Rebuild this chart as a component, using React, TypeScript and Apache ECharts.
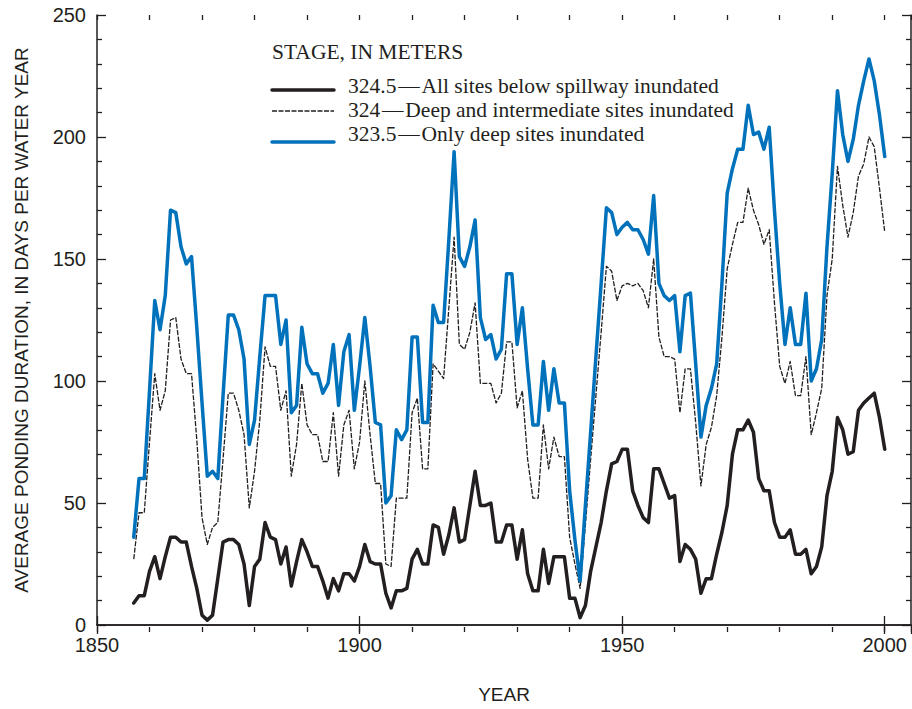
import React, { useEffect, useRef } from "react";
import * as echarts from "echarts";

const START_YEAR = 1857;

// 323.5 m — Only deep sites inundated (blue)
const stage3235: number[] = [
  36, 60, 60, 96,
  133, 121, 135, 170, 169, 155, 148, 151, 122, 91,
  61, 63, 60, 94, 127, 127, 121, 109, 74, 84,
  110, 135, 135, 135, 115, 125, 87, 90, 122, 107,
  103, 103, 95, 99, 115, 90, 112, 119, 88, 106,
  126, 106, 83, 82, 50, 53, 80, 76, 80, 118,
  118, 83, 83, 131, 124, 124, 158, 194, 151, 147,
  155, 166, 126, 117, 119, 109, 113, 144, 144, 115,
  130, 105, 82, 82, 108, 88, 105, 91, 91, 55,
  35, 18, 49, 79, 110, 140, 171, 169, 160, 163,
  165, 162, 162, 158, 152, 176, 140, 135, 133, 135,
  112, 135, 136, 107, 77, 90, 97, 107, 140, 177,
  187, 195, 195, 213, 201, 202, 195, 204, 170, 140,
  115, 130, 115, 115, 136, 100, 105, 117, 155, 185,
  219, 201, 190, 199, 213, 223, 232, 223, 209, 192,
];

// 324 m — Deep and intermediate sites inundated (dashed)
const stage324: number[] = [
  27, 46, 46, 75,
  103, 88, 96, 125, 126, 109, 103, 103, 76, 44,
  33, 40, 42, 68, 95, 95, 88, 78, 48, 63,
  84, 114, 106, 106, 88, 96, 61, 74, 99, 82,
  78, 78, 67, 67, 87, 61, 82, 88, 64, 75,
  100, 78, 58, 58, 25, 24, 52, 52, 52, 87,
  93, 64, 64, 107, 104, 101, 130, 159, 115, 113,
  120, 132, 99, 99, 99, 91, 95, 116, 116, 89,
  96, 68, 52, 52, 82, 64, 77, 69, 69, 36,
  25, 15, 41, 68, 94, 120, 147, 145, 133, 139,
  140, 139, 140, 137, 130, 150, 118, 110, 110, 109,
  87, 105, 105, 83, 57, 74, 81, 94, 118, 146,
  156, 165, 165, 179, 170, 164, 156, 162, 132, 106,
  99, 108, 94, 94, 110, 78, 87, 97, 135, 150,
  188, 172, 159, 169, 184, 189, 200, 196, 179, 161,
];

// 324.5 m — All sites below spillway inundated (thick black)
const stage3245: number[] = [
  9, 12, 12, 22,
  28, 19, 28, 36, 36, 34, 34, 24, 15, 4,
  2, 4, 19, 34, 35, 35, 33, 25, 8, 24,
  27, 42, 36, 35, 25, 32, 16, 26, 35, 30,
  24, 24, 18, 11, 19, 14, 21, 21, 18, 24,
  33, 26, 25, 25, 13, 7, 14, 14, 15, 27,
  31, 25, 25, 41, 40, 29, 37, 48, 34, 35,
  49, 63, 49, 49, 50, 34, 34, 41, 41, 27,
  39, 21, 14, 14, 31, 17, 28, 28, 28, 11,
  11, 3, 8, 22, 32, 42, 55, 66, 67, 72,
  72, 55, 49, 44, 42, 64, 64, 58, 52, 53,
  26, 33, 31, 27, 13, 19, 19, 29, 38, 49,
  70, 80, 80, 84, 79, 60, 55, 55, 42, 36,
  36, 39, 29, 29, 31, 21, 24, 32, 53, 63,
  85, 80, 70, 71, 88, 91, 93, 95, 85, 72,
];

const xTickLabels = ["1850", "1900", "1950", "2000"];
const yTickLabels = ["0", "50", "100", "150", "200", "250"];

const legendTitle = "STAGE, IN METERS";
const legendNames = [
  "324.5\u200a\u2014\u200aAll sites below spillway inundated",
  "324\u200a\u2014\u200aDeep and intermediate sites inundated",
  "323.5\u200a\u2014\u200aOnly deep sites inundated",
];

const INK = "#231f20";
const BLUE = "#0072bc";
const SANS = '"Liberation Sans", Arial, Helvetica, sans-serif';
const SERIF = '"Liberation Serif", "Times New Roman", serif';

const toPairs = (vals: number[]) => vals.map((v, i) => [START_YEAR + i, v]);

export default function App() {
  const ref = useRef<HTMLDivElement | null>(null);

  useEffect(() => {
    if (!ref.current) return;
    const chart = echarts.init(ref.current, undefined, { renderer: "svg" });

    const gridRect = { left: 97, right: 1, top: 15, bottom: 77 };
    const lineAxis = { show: true, lineStyle: { color: INK, width: 1.5 } };

    const option: any = {
      animation: false,
      backgroundColor: "#ffffff",
      grid: [
        { ...gridRect, containLabel: false },
        { ...gridRect, containLabel: false },
      ],
      xAxis: [
        {
          gridIndex: 0,
          type: "value",
          position: "bottom",
          min: 1850,
          max: 2005,
          interval: 50,
          axisLine: lineAxis,
          axisTick: { show: true, inside: true, length: 9, lineStyle: { color: INK, width: 1.3 } },
          splitLine: { show: false },
          axisLabel: {
            show: true,
            margin: 10,
            fontFamily: SANS,
            fontSize: 20,
            color: INK,
            showMaxLabel: false,
            formatter: (v: number) => (xTickLabels.includes(String(v)) ? String(v) : ""),
          },
          name: "YEAR",
          nameLocation: "middle",
          nameGap: 60,
          nameTextStyle: { fontFamily: SANS, fontSize: 19, color: INK },
        },
        {
          gridIndex: 0,
          type: "value",
          position: "top",
          min: 1850,
          max: 2005,
          interval: 50,
          axisLine: lineAxis,
          axisTick: { show: true, inside: true, length: 9, lineStyle: { color: INK, width: 1.3 } },
          splitLine: { show: false },
          axisLabel: { show: false },
        },
        {
          gridIndex: 1,
          type: "value",
          position: "bottom",
          min: 1850,
          max: 2005,
          interval: 10,
          axisLine: { show: false },
          axisTick: { show: true, inside: true, length: 5, lineStyle: { color: INK, width: 1.3 } },
          splitLine: { show: false },
          axisLabel: { show: false },
        },
        {
          gridIndex: 1,
          type: "value",
          position: "top",
          min: 1850,
          max: 2005,
          interval: 10,
          axisLine: { show: false },
          axisTick: { show: true, inside: true, length: 5, lineStyle: { color: INK, width: 1.3 } },
          splitLine: { show: false },
          axisLabel: { show: false },
        },
      ],
      yAxis: [
        {
          gridIndex: 0,
          type: "value",
          position: "left",
          min: 0,
          max: 250,
          interval: 50,
          axisLine: lineAxis,
          axisTick: { show: true, inside: true, length: 9, lineStyle: { color: INK, width: 1.3 } },
          minorTick: { show: true, splitNumber: 5, length: 5, lineStyle: { color: INK, width: 1.3 } },
          splitLine: { show: false },
          minorSplitLine: { show: false },
          axisLabel: {
            margin: 11,
            fontFamily: SANS,
            fontSize: 20,
            color: INK,
            formatter: (v: number) => (yTickLabels.includes(String(v)) ? String(v) : ""),
          },
          name: "AVERAGE PONDING DURATION, IN DAYS PER WATER YEAR",
          nameLocation: "middle",
          nameGap: 66,
          nameTextStyle: { fontFamily: SANS, fontSize: 19, color: INK },
        },
        {
          gridIndex: 0,
          type: "value",
          position: "right",
          min: 0,
          max: 250,
          interval: 50,
          axisLine: lineAxis,
          axisTick: { show: true, inside: true, length: 9, lineStyle: { color: INK, width: 1.3 } },
          minorTick: { show: true, splitNumber: 5, length: 5, lineStyle: { color: INK, width: 1.3 } },
          splitLine: { show: false },
          axisLabel: { show: false },
        },
        {
          gridIndex: 1,
          type: "value",
          show: false,
          min: 0,
          max: 250,
        },
      ],
      series: [
        {
          name: legendNames[1],
          type: "line",
          xAxisIndex: 0,
          yAxisIndex: 0,
          data: toPairs(stage324),
          symbol: "none",
          lineStyle: { color: INK, width: 1.3, type: [5, 1.5], join: "round" },
          z: 2,
        },
        {
          name: legendNames[0],
          type: "line",
          xAxisIndex: 0,
          yAxisIndex: 0,
          data: toPairs(stage3245),
          symbol: "none",
          lineStyle: { color: INK, width: 3.5, join: "round", cap: "round" },
          z: 3,
        },
        {
          name: legendNames[2],
          type: "line",
          xAxisIndex: 0,
          yAxisIndex: 0,
          data: toPairs(stage3235),
          symbol: "none",
          lineStyle: { color: BLUE, width: 3.5, join: "round", cap: "round" },
          z: 4,
        },
      ],
      graphic: [
        {
          type: "text",
          left: 272,
          top: 41,
          style: { text: legendTitle, font: `21.5px ${SERIF}`, fill: INK },
        },
        {
          type: "line",
          shape: { x1: 272, y1: 90, x2: 334, y2: 90 },
          style: { stroke: INK, lineWidth: 3.5, lineCap: "round" },
        },
        {
          type: "line",
          shape: { x1: 272, y1: 111, x2: 334, y2: 111 },
          style: { stroke: INK, lineWidth: 1.3, lineDash: [5, 1.5] },
        },
        {
          type: "line",
          shape: { x1: 272, y1: 142, x2: 334, y2: 142 },
          style: { stroke: BLUE, lineWidth: 3.5, lineCap: "round" },
        },
        {
          type: "text",
          left: 348,
          top: 75,
          style: { text: legendNames[0], font: `21.5px ${SERIF}`, fill: INK },
        },
        {
          type: "text",
          left: 348,
          top: 99,
          style: { text: legendNames[1], font: `21.5px ${SERIF}`, fill: INK },
        },
        {
          type: "text",
          left: 348,
          top: 123,
          style: { text: legendNames[2], font: `21.5px ${SERIF}`, fill: INK },
        },
      ],
    };

    chart.setOption(option);
    return () => {
      chart.dispose();
    };
  }, []);

  return (
    <div
      ref={ref}
      style={{ position: "absolute", left: 0, top: 0, width: 912, height: 709, background: "#fff" }}
    />
  );
}
